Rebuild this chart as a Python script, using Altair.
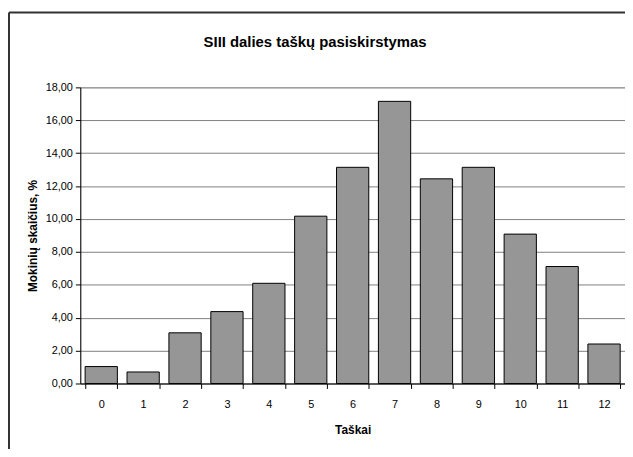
import altair as alt
import pandas as pd

points = [str(i) for i in range(13)]
percent = [1.03, 0.70, 3.08, 4.37, 6.09, 10.17, 13.14, 17.15, 12.44, 13.14, 9.08, 7.11, 2.40]
y_ticks = [0, 2, 4, 6, 8, 10, 12, 14, 16, 18]
chart_title = ["SIII dalies taškų pasiskirstymas"]

df = pd.DataFrame({"Taškai": points, "pct": percent})
tdf = pd.DataFrame({"t": chart_title})
FONT = "Liberation Sans, Arial, sans-serif"

W, H = 550, 299
PL, PT = 73, 78

bars = alt.Chart(df).mark_bar(
    color="#969696", stroke="#000000", strokeWidth=1
).encode(
    x=alt.X("Taškai:N", sort=points, title="Taškai",
            scale=alt.Scale(paddingInner=0.23, paddingOuter=0.115),
            axis=alt.Axis(labelAngle=0, tickBand="extent", tickSize=5,
                          tickColor="#000", domainColor="#000", labelColor="#000",
                          labelFontSize=11, labelPadding=10, titleFontSize=12,
                          titleFontWeight="bold", titlePadding=16, titleColor="#000",
                          labelFont=FONT, titleFont=FONT)),
    y=alt.Y("pct:Q", title="Mokinių skaičius, %",
            scale=alt.Scale(domain=[0, 18], nice=False),
            axis=alt.Axis(values=y_ticks,
                          labelExpr="replace(format(datum.value, '.2f'), '.', ',')",
                          tickSize=5, tickColor="#000", domainColor="#000",
                          labelColor="#000", labelFontSize=11, labelPadding=3,
                          grid=True, gridColor="#808080", gridWidth=1,
                          titleFontSize=12, titleFontWeight="bold", titleColor="#000",
                          titlePadding=6, labelFont=FONT, titleFont=FONT)),
)

border_left = alt.Chart(tdf).mark_rule(color="#333333", strokeWidth=2).encode(
    x=alt.value(-PL + 1), y=alt.value(-PT + 2.5), y2=alt.value(H + 70)
)
border_top = alt.Chart(tdf).mark_rule(color="#333333", strokeWidth=2).encode(
    x=alt.value(-PL + 1), x2=alt.value(W + 10), y=alt.value(-PT + 2.5)
)
title = alt.Chart(tdf).mark_text(
    font=FONT, fontSize=15, fontWeight="bold", color="#000",
    align="center", baseline="alphabetic"
).encode(text="t:N", x=alt.value(318 - 8 - PL), y=alt.value(45 - 8 - PT))

chart = alt.layer(border_left, border_top, title, bars).properties(
    width=W, height=H,
    autosize=alt.AutoSizeParams(type="none"),
    padding={"left": PL, "top": PT, "right": 0, "bottom": 64},
    background="white",
).configure_view(stroke="#c0c0c0")

chart.save("out.html", embed_options={"renderer": "svg", "actions": False})
